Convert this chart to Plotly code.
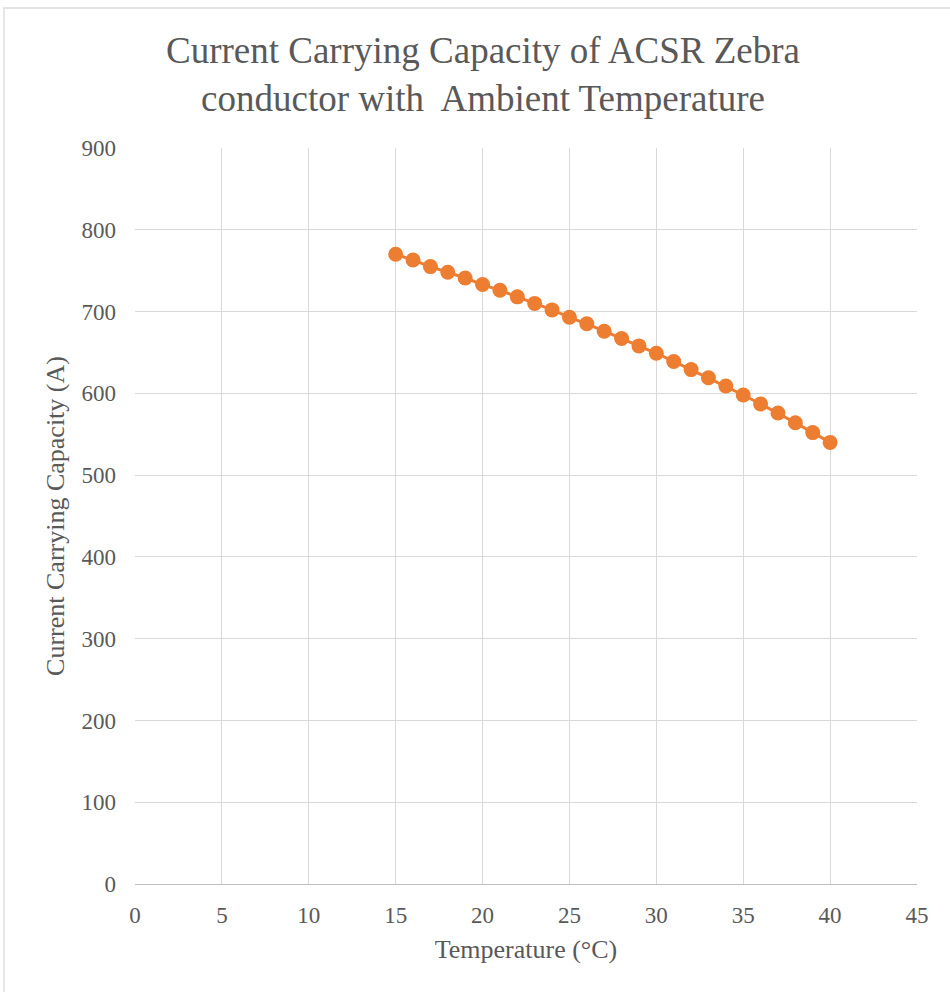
import plotly.graph_objects as go

temperature = list(range(15, 41))
capacity = [770, 763, 755, 748, 741, 733, 726, 718, 710, 702, 693, 685, 676, 667,
            658, 649, 639, 629, 619, 609, 598, 587, 576, 564, 552, 540]

x_ticks = list(range(0, 46, 5))
y_ticks = list(range(0, 901, 100))

W, H = 950, 992
L, R, T, B = 135, 33, 148, 108
pw, ph = W - L - R, H - T - B

fig = go.Figure()
fig.add_trace(go.Scatter(
    x=temperature, y=capacity, mode="lines+markers",
    line=dict(color="#ED7D31", width=3),
    marker=dict(color="#ED7D31", size=15),
    showlegend=False,
))

font_fam = "Liberation Serif, Times New Roman, serif"
gray = "#595959"

fig.update_layout(
    width=W, height=H,
    margin=dict(l=L, r=R, t=T, b=B, autoexpand=False),
    paper_bgcolor="white", plot_bgcolor="white",
    font=dict(family=font_fam, color=gray),
    title=dict(
        text="Current Carrying Capacity of ACSR Zebra<br>conductor with  Ambient Temperature",
        x=(483 - L) / pw, xref="paper", xanchor="center",
        y=1 - 63 / H, yref="container", yanchor="middle",
        font=dict(size=37, color=gray, family=font_fam),
    ),
    xaxis=dict(
        range=[0, 45], tickvals=x_ticks, ticks="", showgrid=True,
        gridcolor="#d9d9d9", gridwidth=1.3, zeroline=False,
        showline=True, linecolor="#bfbfbf", linewidth=1.3,
        tickfont=dict(size=23, color=gray), ticklabelstandoff=10,
        automargin=False,
        title=dict(text="Temperature (°C)", font=dict(size=26, color=gray), standoff=13),
    ),
    yaxis=dict(
        range=[0, 900], tickvals=y_ticks, ticks="", showgrid=True,
        gridcolor="#d9d9d9", gridwidth=1.3, zeroline=False,
        showline=False, automargin=False,
        tickfont=dict(size=23, color=gray), ticklabelstandoff=18,
        title=dict(text="Current Carrying Capacity (A)", font=dict(size=26, color=gray), standoff=9),
    ),
    shapes=[dict(
        type="rect", xref="paper", yref="paper",
        x0=(4 - L) / pw, x1=(960 - L) / pw,
        y0=-(1000 - T - ph) / ph, y1=(H - B - 8) / ph,
        line=dict(color="#d9d9d9", width=1.3), fillcolor="rgba(0,0,0,0)", layer="below",
    )],
)

fig.write_html("out.html")
